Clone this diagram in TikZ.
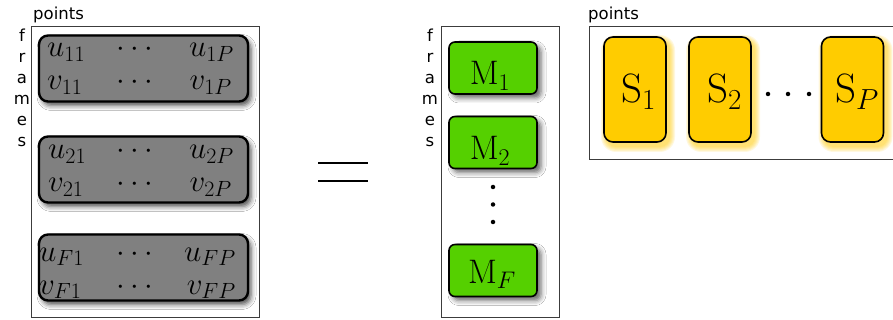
\RequirePackage{fix-cm}
\documentclass[tikz,border=0pt]{standalone}
\usepackage{fontspec}
\setsansfont{DejaVu Sans}
\DeclareMathSizes{31}{31}{22}{16}
\DeclareMathSizes{34}{34}{24}{17}
\DeclareMathSizes{41}{41}{29}{20}
\usetikzlibrary{shadows.blur}
\definecolor{boxgray}{RGB}{128,128,128}
\definecolor{mgreen}{RGB}{85,208,0}
\definecolor{syellow}{RGB}{255,204,0}
\definecolor{framegray}{RGB}{60,60,60}
\tikzset{
  outerframe/.style={draw=framegray, line width=1pt, fill=white},
  graybox/.style={draw=black, line width=2.4pt, rounded corners=9pt, fill=boxgray,
    minimum width=209pt, minimum height=66pt,
    blur shadow={shadow xshift=3pt, shadow yshift=-4pt, shadow blur radius=5pt, shadow opacity=70}},
  greenbox/.style={draw=black, line width=1.6pt, rounded corners=6pt, fill=mgreen,
    minimum width=88pt, minimum height=52pt,
    blur shadow={shadow xshift=4pt, shadow yshift=-4pt, shadow blur radius=5pt, shadow opacity=60}},
  yellowbox/.style={draw=black, line width=1.6pt, rounded corners=9pt, fill=syellow,
    minimum width=62pt, minimum height=105pt},
  glowstep/.style={fill=syellow, fill opacity=0.12, draw=none},
  lab/.style={font=\sffamily\fontsize{16.5}{16.5}\selectfont, inner sep=0pt},
  mtxt/.style={font=\fontsize{31}{31}\selectfont, inner sep=0pt},
  bigtxt/.style={font=\fontsize{34}{34}\selectfont, inner sep=0pt},
  stxt/.style={font=\fontsize{41}{41}\selectfont, inner sep=0pt},
  dot/.style={circle, fill=black, inner sep=0pt, minimum size=4.5pt},
}
\begin{document}
\begin{tikzpicture}[x=1pt, y=-1pt]
\useasboundingbox (0,0) rectangle (893,320);
% ---------- left matrix ----------
\node[lab, anchor=base west] (pts1) at (33,20) {points};
\foreach \l [count=\i] in {f,r,a,m,e,s}
  \node[lab, anchor=base] (fl\i) at (22,{42+(\i-1)*21}) {\l};
\draw[outerframe] (31,27) rectangle (259,317);
\node[graybox] (g1) at (143.5,68.5) {};
\node[graybox] (g2) at (143.5,169.5) {};
\node[graybox] (g3) at (143.5,267.5) {};
% row texts
\node[mtxt, anchor=base west] (u11) at (47,57) {$u_{11}$};
\node[mtxt, anchor=base] (ud1) at (135,57) {$\cdots$};
\node[mtxt, anchor=base east] (u1p) at (234,57) {$u_{1P}$};
\node[mtxt, anchor=base west] (v11) at (47,90) {$v_{11}$};
\node[mtxt, anchor=base] (vd1) at (135,90) {$\cdots$};
\node[mtxt, anchor=base east] (v1p) at (232,90) {$v_{1P}$};
\node[mtxt, anchor=base west] (u21) at (48,159) {$u_{21}$};
\node[mtxt, anchor=base] (ud2) at (135,159) {$\cdots$};
\node[mtxt, anchor=base east] (u2p) at (234,159) {$u_{2P}$};
\node[mtxt, anchor=base west] (v21) at (48,192) {$v_{21}$};
\node[mtxt, anchor=base] (vd2) at (135,192) {$\cdots$};
\node[mtxt, anchor=base east] (v2p) at (232,192) {$v_{2P}$};
\node[mtxt, anchor=base west] (uf1) at (39,261) {$u_{F1}$};
\node[mtxt, anchor=base] (udf) at (135,261) {$\cdots$};
\node[mtxt, anchor=base east] (ufp) at (236,261) {$u_{FP}$};
\node[mtxt, anchor=base west] (vf1) at (39,294) {$v_{F1}$};
\node[mtxt, anchor=base] (vdf) at (135,294) {$\cdots$};
\node[mtxt, anchor=base east] (vfp) at (236,294) {$v_{FP}$};
% ---------- equals ----------
\draw[line width=2.4pt] (318,163) -- (368,163);
\draw[line width=2.4pt] (318,181) -- (368,181);
% ---------- motion matrix ----------
\foreach \l [count=\i] in {f,r,a,m,e,s}
  \node[lab, anchor=base] (gl\i) at (430,{42+(\i-1)*21}) {\l};
\draw[outerframe] (441,27) rectangle (559,317);
\node[greenbox] (m1) at (493,68) {};
\node[greenbox] (m2) at (493,142.5) {};
\node[greenbox] (mf) at (493,270.5) {};
\node[bigtxt, anchor=base] (m1t) at (490,85) {$\mathrm{M}_1$};
\node[bigtxt, anchor=base] (m2t) at (490,160) {$\mathrm{M}_2$};
\node[bigtxt, anchor=base] (mft) at (492,283) {$\mathrm{M}_F$};
\node[dot] (vd1x) at (493,187) {};
\node[dot] (vd2x) at (493,204.5) {};
\node[dot] (vd3x) at (493,222) {};
% ---------- shape matrix ----------
\node[lab, anchor=base west] (pts2) at (588,20) {points};
\draw[outerframe] (589,27) rectangle (900,160);
% yellow glow behind the S boxes
\foreach \cx in {635,720,852.5}
  \foreach \k in {1,...,6}
    \fill[glowstep, rounded corners={9pt+\k pt}] ({\cx+3-31-\k},{89.5+4-52.5-\k}) rectangle ({\cx+3+31+\k},{89.5+4+52.5+\k});
\node[yellowbox] (s1) at (635,89.5) {};
\node[yellowbox] (s2) at (720,89.5) {};
\node[yellowbox] (sp) at (852.5,89.5) {};
\node[stxt, anchor=base] (s1t) at (638.5,103) {$\mathrm{S}_1$};
\node[stxt, anchor=base] (s2t) at (724.5,103) {$\mathrm{S}_2$};
\node[stxt, anchor=base] (spt) at (857,103) {$\mathrm{S}_P$};
\node[dot] (hd1) at (768,94) {};
\node[dot] (hd2) at (788,94) {};
\node[dot] (hd3) at (809,94) {};
\end{tikzpicture}
\end{document}
